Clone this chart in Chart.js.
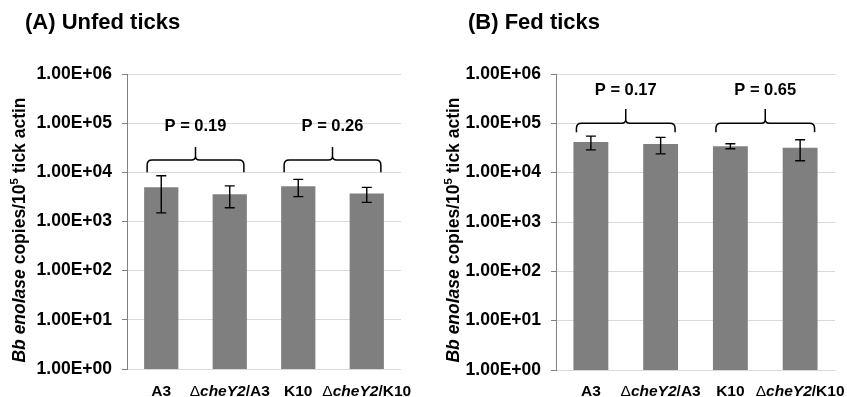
<!DOCTYPE html>
<html lang="en">
<head>
<meta charset="UTF-8">
<title>Bb enolase copies in unfed and fed ticks</title>
<script src="https://cdn.jsdelivr.net/npm/chart.js"></script>
<style>
  body { margin: 0; background: #fff; font-family: "Liberation Sans", Arial, sans-serif; }
  .panel { position: absolute; top: 0; height: 397px; }
  #panelA { left: 0; width: 423px; }
  #panelB { left: 423px; width: 424px; }
  .title { position: absolute; top: 9px; font-size: 22px; font-weight: bold; color: #000; white-space: nowrap; }
  #titleA { left: 25px; }
  #titleB { left: 468px; }
</style>
</head>
<body>
<div class="panel" id="panelA"><canvas id="chartA"></canvas></div>
<div class="panel" id="panelB"><canvas id="chartB"></canvas></div>
<div class="title" id="titleA">(A) Unfed ticks</div>
<div class="title" id="titleB">(B) Fed ticks</div>
<script>
// data
const strains = ['A3', '\u0394cheY2/A3', 'K10', '\u0394cheY2/K10'];
const unfedMeans = [5000, 3600, 5200, 3700];
const unfedErrors = [3500, 1700, 2000, 1250];
const fedMeans = [42000, 38000, 34500, 32000];
const fedErrors = [13000, 14000, 4000, 14500];
const tickValues = [1, 10, 100, 1000, 10000, 100000, 1000000];
const unfedPValues = ['P = 0.19', 'P = 0.26'];
const fedPValues = ['P = 0.17', 'P = 0.65'];

const FONT = '"Liberation Sans", Arial, sans-serif';

function sciLabel(v) {
    var e = Math.round(Math.log10(v));
    return '1.00E' + (e < 0 ? '-' : '+') + String(Math.abs(e)).padStart(2, '0');
}

function partFont(p) {
    return (p.italic ? 'italic ' : '') + (p.light ? '' : 'bold ') + p.size + 'px ' + FONT;
}

// draw text made of several parts (italic / superscript)
function drawParts(ctx, parts, x, y) {
    var total = 0;
    parts.forEach(function (p) {
        ctx.font = partFont(p);
        p.w = ctx.measureText(p.text).width;
        total += p.w;
    });
    var cx = x - total / 2;
    parts.forEach(function (p) {
        ctx.font = partFont(p);
        ctx.fillText(p.text, cx, y + (p.dy || 0));
        cx += p.w;
    });
}

function strainParts(name) {
    var i = name.indexOf('cheY2');
    if (i < 0) return [{ text: name, size: 15.5 }];
    return [
        { text: name.slice(0, i), size: 15.5, light: true },
        { text: 'cheY2', size: 15.5, italic: true },
        { text: name.slice(i + 5), size: 15.5 }
    ];
}

function makeChart(id, means, errors, pValues, braces, yAxisWidth, titleX, padRight, padBottom) {
    var overlay = {
        id: 'overlay',
        afterDatasetsDraw: function (chart) {
            var ctx = chart.ctx;
            var y = chart.scales.y;
            var meta = chart.getDatasetMeta(0);
            ctx.save();

            // error bars
            ctx.strokeStyle = '#000';
            ctx.lineWidth = 1.4;
            meta.data.forEach(function (bar, i) {
                var top = y.getPixelForValue(means[i] + errors[i]);
                var bot = y.getPixelForValue(means[i] - errors[i]);
                ctx.beginPath();
                ctx.moveTo(bar.x, top); ctx.lineTo(bar.x, bot);
                ctx.moveTo(bar.x - 5, top); ctx.lineTo(bar.x + 5, top);
                ctx.moveTo(bar.x - 5, bot); ctx.lineTo(bar.x + 5, bot);
                ctx.stroke();
            });

            // braces with P values
            ctx.lineWidth = 1.5;
            braces.forEach(function (b, k) {
                var a = meta.data[b.from], c = meta.data[b.to];
                var x1 = a.x - a.width / 2 + 3, x2 = c.x + c.width / 2 - 3, xm = (x1 + x2) / 2;
                var yEnd = y.getPixelForValue(b.end);
                var yLine = y.getPixelForValue(b.line);
                var yTip = y.getPixelForValue(b.tip);
                var r = 5;
                ctx.beginPath();
                ctx.moveTo(x1, yEnd);
                ctx.lineTo(x1, yLine + r);
                ctx.quadraticCurveTo(x1, yLine, x1 + r, yLine);
                ctx.lineTo(xm - 4, yLine);
                ctx.quadraticCurveTo(xm, yLine, xm, yLine - 4);
                ctx.lineTo(xm, yTip);
                ctx.moveTo(xm, yLine - 4);
                ctx.quadraticCurveTo(xm, yLine, xm + 4, yLine);
                ctx.lineTo(x2 - r, yLine);
                ctx.quadraticCurveTo(x2, yLine, x2, yLine + r);
                ctx.lineTo(x2, yEnd);
                ctx.stroke();

                ctx.fillStyle = '#000';
                ctx.textAlign = 'left';
                ctx.textBaseline = 'middle';
                drawParts(ctx, [{ text: pValues[k], size: 16.5 }], xm, y.getPixelForValue(b.label));
            });

            // category labels
            ctx.textBaseline = 'alphabetic';
            meta.data.forEach(function (bar, i) {
                drawParts(ctx, strainParts(strains[i]), bar.x, 396);
            });

            // y axis title
            ctx.translate(titleX, 230);
            ctx.rotate(-Math.PI / 2);
            ctx.textBaseline = 'middle';
            drawParts(ctx, [
                { text: 'Bb enolase', size: 17.5, italic: true },
                { text: ' copies/10', size: 17.5 },
                { text: '5', size: 11.5, dy: -5.5 },
                { text: ' tick actin', size: 17.5 }
            ], 0, 0);
            ctx.restore();
        }
    };

    return new Chart(document.getElementById(id), {
        type: 'bar',
        data: {
            labels: strains,
            datasets: [{
                data: means,
                backgroundColor: '#7f7f7f',
                borderWidth: 0,
                categoryPercentage: 1.0,
                barPercentage: 0.5
            }]
        },
        options: {
            responsive: true,
            maintainAspectRatio: false,
            animation: false,
            layout: { padding: { top: 74, right: padRight, bottom: padBottom, left: 0 } },
            plugins: { legend: { display: false }, tooltip: { enabled: false } },
            scales: {
                x: { display: false },
                y: {
                    type: 'logarithmic',
                    min: 1,
                    max: 1000000,
                    afterBuildTicks: function (scale) {
                        scale.ticks = tickValues.map(function (v) { return { value: v }; });
                    },
                    afterFit: function (scale) { scale.width = yAxisWidth; },
                    grid: { color: '#d9d9d9', tickColor: '#808080', tickLength: 5 },
                    border: { color: '#808080' },
                    ticks: {
                        padding: 10,
                        color: '#000',
                        font: { family: FONT, size: 17.5, weight: 'bold' },
                        callback: function (v) { return sciLabel(v); }
                    }
                }
            }
        },
        plugins: [overlay]
    });
}

makeChart('chartA', unfedMeans, unfedErrors, unfedPValues, [
    { from: 0, to: 1, end: 10000, line: 17900, tip: 32800, label: 85000 },
    { from: 2, to: 3, end: 10000, line: 17900, tip: 32800, label: 85000 }
], 127, 20, 22, 28);

makeChart('chartB', fedMeans, fedErrors, fedPValues, [
    { from: 0, to: 1, end: 66000, line: 100000, tip: 195000, label: 473000 },
    { from: 2, to: 3, end: 66000, line: 100000, tip: 195000, label: 473000 }
], 133, 31, 12, 27);
</script>
</body>
</html>
